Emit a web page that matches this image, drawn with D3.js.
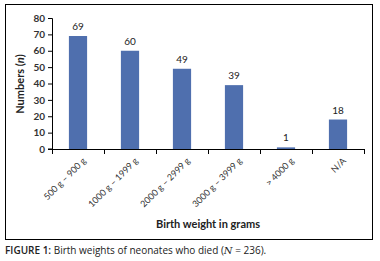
<!DOCTYPE html>
<html>
<head>
<meta charset="utf-8">
<script src="https://cdn.jsdelivr.net/npm/d3@7"></script>
<style>
  body { margin: 0; background: #fff; }
  svg { display: block; font-family: Lato, "Open Sans", sans-serif; }
</style>
</head>
<body>
<script>
var categories = ["500 g \u2013 900 g", "1000 g \u2013 1999 g", "2000 g \u2013 2999 g",
                  "3000 g \u2013 3999 g", "> 4000 g", "N/A"];
var counts = [69, 60, 49, 39, 1, 18];
var yTicks = [0, 10, 20, 30, 40, 50, 60, 70, 80];

var W = 380, H = 261;
var margin = {top: 18, right: 16, bottom: 112, left: 52},
    width = 364 - margin.left,
    height = 149 - margin.top;

var svg = d3.select("body").append("svg")
  .attr("width", W)
  .attr("height", H);

// outer frame
svg.append("rect")
  .attr("x", 5.5).attr("y", 4.5)
  .attr("width", 367).attr("height", 235)
  .attr("fill", "none")
  .attr("stroke", "#000")
  .attr("stroke-width", 1);

var g = svg.append("g")
  .attr("transform", "translate(" + margin.left + "," + margin.top + ")");

var x = d3.scaleBand().domain(categories).range([0, width])
  .paddingInner(0.65).paddingOuter(0.325);
var y = d3.scaleLinear().domain([0, 80]).range([height, 0]);

// bars
g.selectAll(".bar")
  .data(counts)
  .enter().append("rect")
  .attr("class", "bar")
  .attr("x", function(d, i) { return x(categories[i]); })
  .attr("y", function(d) { return y(d); })
  .attr("width", x.bandwidth())
  .attr("height", function(d) { return height - y(d); })
  .attr("fill", "#4F6FAE");

// value labels
g.selectAll(".val")
  .data(counts)
  .enter().append("text")
  .attr("x", function(d, i) { return x(categories[i]) + x.bandwidth() / 2; })
  .attr("y", function(d) { return y(d) - 6; })
  .attr("text-anchor", "middle")
  .attr("font-size", 10)
  .attr("fill", "#222")
  .text(function(d) { return d; });

// y axis
var yAxis = g.append("g")
  .call(d3.axisLeft(y).tickValues(yTicks).tickSize(4).tickPadding(3));
yAxis.select(".domain").attr("stroke", "#000").attr("d", "M-4,0.5H0.5V" + height + "H-4");
yAxis.selectAll("text").attr("font-size", 10).attr("font-family", "Lato, sans-serif")
  .attr("font-weight", "bold").attr("fill", "#333");

// x axis with ticks on category boundaries
var xAxis = g.append("g").attr("transform", "translate(0," + height + ")");
xAxis.append("line")
  .attr("x1", 0).attr("x2", width)
  .attr("y1", 0.5).attr("y2", 0.5)
  .attr("stroke", "#000");
xAxis.selectAll(".tk")
  .data(d3.range(categories.length + 1))
  .enter().append("line")
  .attr("x1", function(i) { return Math.round(i * x.step()) + 0.5; })
  .attr("x2", function(i) { return Math.round(i * x.step()) + 0.5; })
  .attr("y1", 0).attr("y2", 5)
  .attr("stroke", "#000");
xAxis.selectAll(".lbl")
  .data(categories)
  .enter().append("text")
  .attr("transform", function(d) {
    return "translate(" + (x(d) + x.bandwidth() / 2 + 4) + ",8) rotate(-45)";
  })
  .attr("text-anchor", "end")
  .attr("dy", "0.7em")
  .attr("font-size", 9)
  .attr("fill", "#333")
  .text(function(d) { return d; });

// axis titles
svg.append("text")
  .attr("x", 208).attr("y", 228)
  .attr("text-anchor", "middle")
  .attr("font-size", 11)
  .attr("font-weight", "bold")
  .attr("fill", "#222")
  .text("Birth weight in grams");

var yl = svg.append("text")
  .attr("transform", "translate(24,84) rotate(-90)")
  .attr("text-anchor", "middle")
  .attr("font-size", 11)
  .attr("font-weight", "bold")
  .attr("fill", "#222");
yl.append("tspan").text("Numbers (");
yl.append("tspan").attr("font-style", "italic").text("n");
yl.append("tspan").text(")");

// caption
var cap = svg.append("text")
  .attr("x", 5).attr("y", 254)
  .attr("font-size", 10)
  .attr("font-family", "'Open Sans', sans-serif")
  .attr("fill", "#222");
cap.append("tspan").attr("font-weight", 600).text("FIGURE 1: ");
cap.append("tspan").text("Birth weights of neonates who died (");
cap.append("tspan").attr("font-style", "italic").attr("font-family", "'DejaVu Serif', serif").text("N");
cap.append("tspan").text(" = 236).");
</script>
</body>
</html>
